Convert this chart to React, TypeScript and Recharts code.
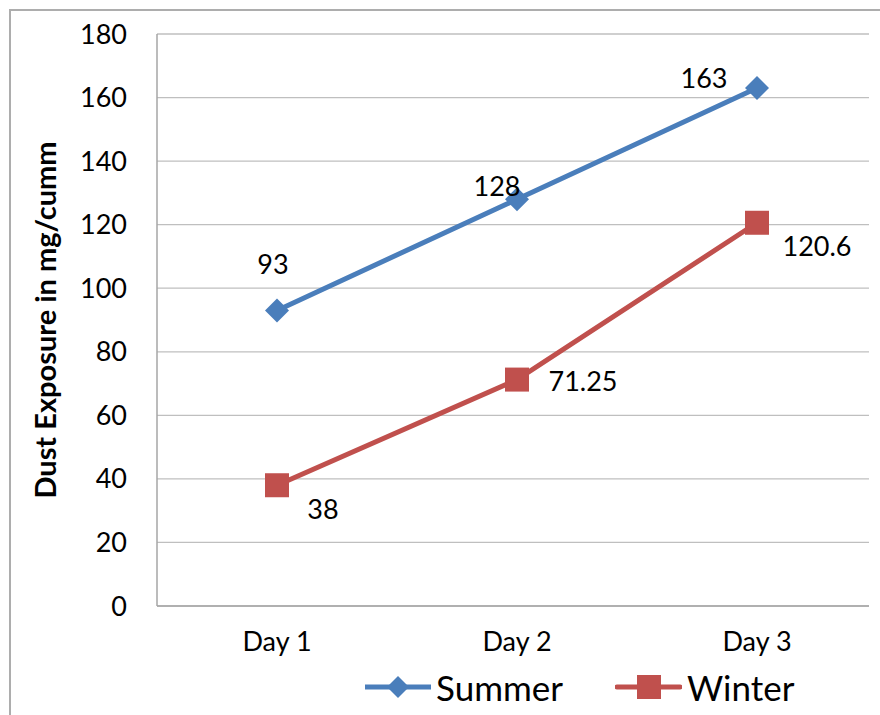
import React from 'react';
import { LineChart, Line, XAxis, YAxis, CartesianGrid, Legend, LabelList } from 'recharts';

const categories = ['Day 1', 'Day 2', 'Day 3'];
const summerValues = [93, 128, 163];
const winterValues = [38, 71.25, 120.6];
const yTicks = [0, 20, 40, 60, 80, 100, 120, 140, 160, 180];
const seriesNames = ['Summer', 'Winter'];

// label placement offsets (presentation only)
const summerLabelOffsets = [[-4, -47], [-20, -14], [-53, -11]];
const winterLabelOffsets = [[46, 23], [66, 1], [60, 23]];

const data = categories.map((c, i) => ({ day: c, summer: summerValues[i], winter: winterValues[i] }));

const BLUE = '#4A7EBB';
const RED = '#C0504D';
const FONT = 'Lato, "Open Sans", sans-serif';

const Diamond = (props: any) => {
  const { cx, cy } = props;
  if (cx == null || cy == null) return null;
  const r = 12;
  return <path d={`M${cx},${cy - r}L${cx + r},${cy}L${cx},${cy + r}L${cx - r},${cy}Z`} fill={BLUE} />;
};

const Square = (props: any) => {
  const { cx, cy } = props;
  if (cx == null || cy == null) return null;
  const s = 12;
  return <rect x={cx - s} y={cy - s} width={2 * s} height={2 * s} fill={RED} />;
};

const makeLabel = (offsets: number[][]) => (props: any) => {
  const { x, y, value, index } = props;
  const [dx, dy] = offsets[index] || [0, 0];
  return (
    <text x={x + dx} y={y + dy} textAnchor="middle" dominantBaseline="central" fontSize={27} fontFamily={FONT} fill="#000">
      {value}
    </text>
  );
};

const LegendContent = () => (
  <div style={{ display: 'flex', alignItems: 'center', fontFamily: FONT, fontSize: 35, color: '#000', whiteSpace: 'nowrap' }}>
    <svg width={66} height={30} style={{ display: 'block' }}>
      <line x1={0} y1={15} x2={66} y2={15} stroke={BLUE} strokeWidth={5} strokeLinecap="round" />
      <path d="M33,4L44,15L33,26L22,15Z" fill={BLUE} />
    </svg>
    <span style={{ marginLeft: 5, lineHeight: '30px' }}>{seriesNames[0]}</span>
    <svg width={67} height={30} style={{ display: 'block', marginLeft: 52 }}>
      <line x1={2} y1={15} x2={65} y2={15} stroke={RED} strokeWidth={5} strokeLinecap="round" />
      <rect x={22} y={3} width={24} height={24} fill={RED} />
    </svg>
    <span style={{ marginLeft: 5, lineHeight: '30px' }}>{seriesNames[1]}</span>
  </div>
);

const YTitle = (props: any) => {
  const vb = props.viewBox || { x: 0, y: 0, width: 0, height: 0 };
  const cx = vb.x + 44;
  const cy = vb.y + vb.height / 2;
  return (
    <text x={cx} y={cy} transform={`rotate(-90 ${cx} ${cy})`} textAnchor="middle" dominantBaseline="central" fontSize={29} fontWeight="bold" fontFamily={FONT} fill="#000">
      Dust Exposure in mg/cumm
    </text>
  );
};

export default function App() {
  return (
    <div style={{ position: 'absolute', left: 0, top: 0, width: 880, height: 715, background: '#fff', overflow: 'hidden' }}>
      <div style={{ position: 'absolute', left: 9, top: 9, width: 900, height: 720, border: '2px solid #ADADAD', boxSizing: 'border-box' }} />
      <LineChart
        width={880}
        height={715}
        data={data}
        margin={{ top: 34, right: 11, bottom: 59, left: 0 }}
        style={{ position: 'absolute', left: 0, top: 0 }}
      >
        <CartesianGrid vertical={false} stroke="#BFBFBF" strokeWidth={1.3} />
        <XAxis
          dataKey="day"
          height={50}
          axisLine={{ stroke: '#A6A6A6', strokeWidth: 1.5 }}
          tickLine={false}
          tickSize={0}
          tickMargin={26}
          padding={{ left: 120, right: 112 }}
          tick={{ fontSize: 27, fontFamily: FONT, fill: '#000' }}
        />
        <YAxis
          width={157}
          domain={[0, 180]}
          ticks={yTicks}
          interval={0}
          axisLine={{ stroke: '#A6A6A6', strokeWidth: 1.5 }}
          tickLine={false}
          tickSize={0}
          tickMargin={30}
          tick={{ fontSize: 27, fontFamily: FONT, fill: '#000' }}
          label={<YTitle />}
        />
        <Legend
          verticalAlign="middle"
          align="center"
          layout="horizontal"
          content={<LegendContent />}
          wrapperStyle={{ left: 365, top: 672, width: 'auto' }}
        />
        <Line
          type="linear"
          dataKey="summer"
          name={seriesNames[0]}
          stroke={BLUE}
          strokeWidth={5}
          dot={<Diamond />}
          activeDot={false}
          isAnimationActive={false}
        >
          <LabelList dataKey="summer" content={makeLabel(summerLabelOffsets)} />
        </Line>
        <Line
          type="linear"
          dataKey="winter"
          name={seriesNames[1]}
          stroke={RED}
          strokeWidth={5}
          dot={<Square />}
          activeDot={false}
          isAnimationActive={false}
        >
          <LabelList dataKey="winter" content={makeLabel(winterLabelOffsets)} />
        </Line>
      </LineChart>
    </div>
  );
}
